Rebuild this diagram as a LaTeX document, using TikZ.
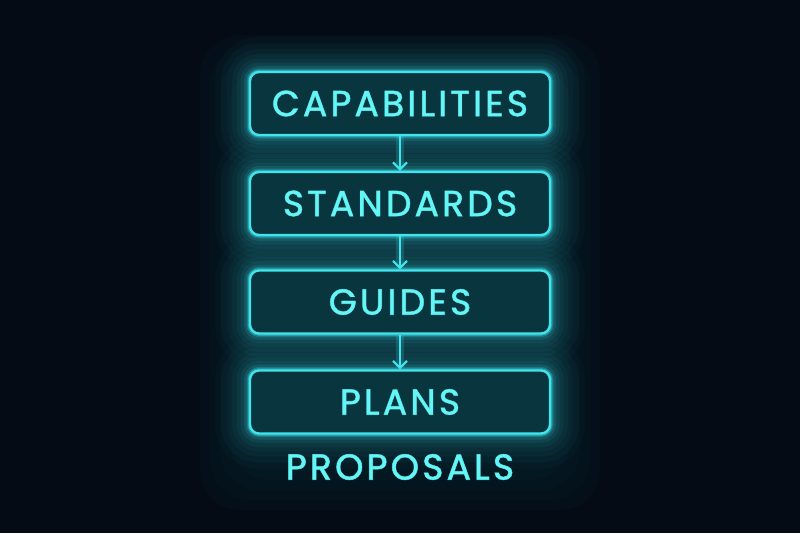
\documentclass[tikz,border=0pt]{standalone}
\usepackage{fontspec}
\setmainfont{Poppins}[LetterSpace=9]
\usepackage{tikz}
\usetikzlibrary{positioning,arrows.meta}
\definecolor{nightbg}{HTML}{040B15}
\definecolor{neon}{HTML}{3FE4EC}
\definecolor{neontext}{HTML}{66F5F5}
\definecolor{textglow}{HTML}{1A8C98}
\definecolor{boxfill}{HTML}{09353E}
\definecolor{halo}{HTML}{0B5A66}
% neon letters: a dim wide copy under a bright thin one
\newcommand{\neonword}[1]{%
  \rlap{\color{textglow}\addfontfeatures{FakeBold=2.5}#1}%
  {\color{neontext}\addfontfeatures{FakeBold=0.6}#1}}
\tikzset{
neonbox/.style={draw=neon, line width=2.4, rounded corners=9, fill=boxfill,
  minimum width=300, minimum height=63, inner sep=0pt,
  font=\fontsize{36}{40}\selectfont,
  preaction={draw=neon, line width=70, opacity=0.025},
  preaction={draw=neon, line width=58, opacity=0.03},
  preaction={draw=neon, line width=46, opacity=0.035},
  preaction={draw=neon, line width=36, opacity=0.04},
  preaction={draw=neon, line width=27, opacity=0.05},
  preaction={draw=neon, line width=19, opacity=0.07},
  preaction={draw=neon, line width=12, opacity=0.12},
  preaction={draw=neon, line width=7, opacity=0.22},
  preaction={draw=neon, line width=4.5, opacity=0.40}},
neonlabel/.style={font=\fontsize{36}{40}\selectfont, inner sep=0pt},
neonarrow/.style={draw=neon, line width=2, -{Straight Barb[length=7,width=14,line width=2]},
  preaction={draw=neon, line width=8, opacity=0.18}}
}
\begin{document}
\begin{tikzpicture}[x=1pt,y=1pt,yscale=-1]
\useasboundingbox (0,0) rectangle (800,533);
\fill [nightbg] (0,0) rectangle (800,533);
% faint haze round the stack
\foreach \g in {0,10,20,30}
  \fill [halo, opacity=0.05, rounded corners=40] (200+\g,35+\g) rectangle (600-\g,510-\g);

% boxes
\node [neonbox] (cap) at (400,103.5) {\neonword{CAPABILITIES}};
\node [neonbox] (std) at (400,203.5) {\neonword{STANDARDS}};
\node [neonbox] (gui) at (400,302) {\neonword{GUIDES}};
\node [neonbox] (pla) at (400,402) {\neonword{PLANS}};
% label below
\node [neonlabel] (pro) at (400,467) {\neonword{PROPOSALS}};

% arrows
\draw [neonarrow] (cap.south) -- (std.north);
\draw [neonarrow] (std.south) -- (gui.north);
\draw [neonarrow] (gui.south) -- (pla.north);
\end{tikzpicture}
\end{document}
